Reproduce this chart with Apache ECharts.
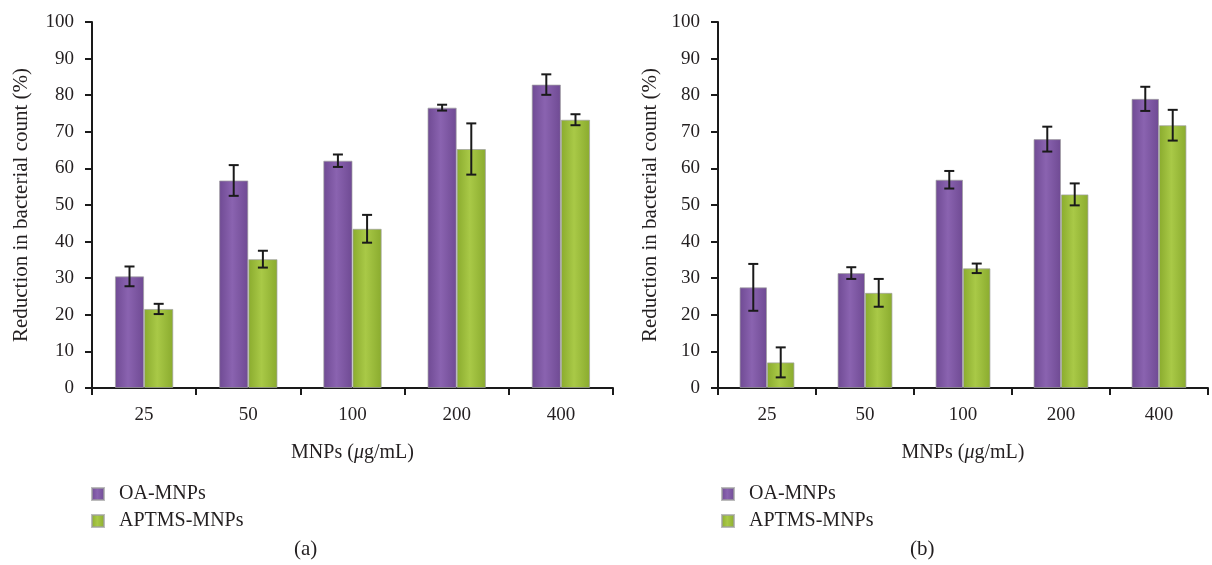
<!DOCTYPE html>
<html><head><meta charset="utf-8">
<script src="https://cdn.jsdelivr.net/npm/echarts@6/dist/echarts.min.js"></script>
<style>html,body{margin:0;padding:0;background:#fff}#c{width:1212px;height:565px}</style>
</head><body><div id="c"></div>
<script>
const categories = ['25', '50', '100', '200', '400'];
const seriesNames = ['OA-MNPs', 'APTMS-MNPs'];
const yTicks = [0, 10, 20, 30, 40, 50, 60, 70, 80, 90, 100];
// Panel (a)
const aOA = [30.5, 56.7, 62.1, 76.6, 82.9];
const aOAErr = [2.7, 4.2, 1.7, 0.8, 2.8];
const aAPTMS = [21.6, 35.2, 43.5, 65.3, 73.3];
const aAPTMSErr = [1.4, 2.3, 3.8, 7.0, 1.5];
// Panel (b)
const bOA = [27.5, 31.4, 56.9, 68.0, 79.0];
const bOAErr = [6.4, 1.6, 2.4, 3.4, 3.3];
const bAPTMS = [7.0, 26.0, 32.7, 52.9, 71.8];
const bAPTMSErr = [4.1, 3.8, 1.3, 3.0, 4.2];
const captions = ['(a)', '(b)'];

const FONT = 'Liberation Serif';
const TXT = '#231f20';
const BAR_FRAC = 0.28;

function grad(dark, light) {
  return new echarts.graphic.LinearGradient(0, 0, 1, 0, [
    {offset: 0, color: dark}, {offset: 0.45, color: light}, {offset: 1, color: dark}
  ]);
}
const purple = grad('#6f4a93', '#8a63b0');
const green = grad('#8aab2e', '#a9c947');

function errSeries(idx, vals, errs, sign) {
  return {
    type: 'custom', name: 'err' + idx + sign, xAxisIndex: idx, yAxisIndex: idx, z: 10,
    data: vals.map((v, i) => [i, v, errs[i]]),
    renderItem: function (params, api) {
      const x = api.value(0), v = api.value(1), e = api.value(2);
      const band = api.size([1, 0])[0];
      const off = sign * band * BAR_FRAC / 2;
      const t = api.coord([x, v + e]), b = api.coord([x, v - e]);
      const cx = t[0] + off, hw = 5;
      const st = {stroke: '#1a1a1a', lineWidth: 2};
      return {type: 'group', children: [
        {type: 'line', shape: {x1: cx, y1: t[1], x2: cx, y2: b[1]}, style: st},
        {type: 'line', shape: {x1: cx - hw, y1: t[1], x2: cx + hw, y2: t[1]}, style: st},
        {type: 'line', shape: {x1: cx - hw, y1: b[1], x2: cx + hw, y2: b[1]}, style: st}
      ]};
    }
  };
}

function barSeries(idx, name, vals, color) {
  return {
    type: 'bar', name: name, xAxisIndex: idx, yAxisIndex: idx, data: vals,
    barWidth: (BAR_FRAC * 100) + '%', barGap: '0%',
    itemStyle: {color: color, borderColor: 'rgba(160,160,160,0.7)', borderWidth: 1}
  };
}

const grids = [
  {left: 92, right: 599, top: 22, bottom: 177},
  {left: 718, right: 4, top: 22, bottom: 177}
];

function xAxis(idx) {
  return {
    type: 'category', gridIndex: idx, data: categories,
    axisLine: {lineStyle: {color: '#1a1a1a', width: 2}},
    axisTick: {show: true, alignWithLabel: false, interval: 0, length: 7, lineStyle: {color: '#1a1a1a', width: 2}},
    axisLabel: {color: TXT, fontFamily: FONT, fontSize: 19, margin: 18},
    name: '{n|MNPs (}{i|μ}{n|g/mL)}', nameLocation: 'middle', nameGap: 55,
    nameTextStyle: {rich: {
      n: {fontFamily: FONT, fontSize: 20, color: TXT},
      i: {fontFamily: FONT, fontSize: 20, color: TXT, fontStyle: 'italic'}
    }}
  };
}
function yAxis(idx, gap) {
  return {
    type: 'value', gridIndex: idx, min: yTicks[0], max: yTicks[yTicks.length - 1], interval: 10,
    axisLine: {show: true, lineStyle: {color: '#1a1a1a', width: 2}},
    axisTick: {show: true, length: 7, lineStyle: {color: '#1a1a1a', width: 2}},
    splitLine: {show: false},
    axisLabel: {color: TXT, fontFamily: FONT, fontSize: 19, margin: 18},
    name: 'Reduction in bacterial count (%)', nameLocation: 'middle', nameGap: gap,
    nameTextStyle: {fontFamily: FONT, fontSize: 21, color: TXT}
  };
}

function legend(left) {
  return {
    orient: 'vertical', left: left, top: 479, itemWidth: 12, itemHeight: 12, itemGap: 7,
    icon: 'rect', data: seriesNames,
    textStyle: {fontFamily: FONT, fontSize: 20, color: TXT, padding: [0, 0, 0, 10]}
  };
}

const option = {
  animation: false,
  backgroundColor: '#ffffff',
  grid: grids,
  xAxis: [xAxis(0), xAxis(1)],
  yAxis: [yAxis(0, 60), yAxis(1, 57)],
  legend: [legend(86), legend(716)],
  title: [
    {text: captions[0], left: 289, top: 534, textStyle: {fontFamily: FONT, fontSize: 21, fontWeight: 'normal', color: TXT}},
    {text: captions[1], left: 905, top: 534, textStyle: {fontFamily: FONT, fontSize: 21, fontWeight: 'normal', color: TXT}}
  ],
  series: [
    barSeries(0, seriesNames[0], aOA, purple),
    barSeries(0, seriesNames[1], aAPTMS, green),
    barSeries(1, seriesNames[0], bOA, purple),
    barSeries(1, seriesNames[1], bAPTMS, green),
    errSeries(0, aOA, aOAErr, -1),
    errSeries(0, aAPTMS, aAPTMSErr, 1),
    errSeries(1, bOA, bOAErr, -1),
    errSeries(1, bAPTMS, bAPTMSErr, 1)
  ]
};
const chart = echarts.init(document.getElementById('c'), null, {renderer: 'canvas'});
chart.setOption(option);
</script></body></html>
